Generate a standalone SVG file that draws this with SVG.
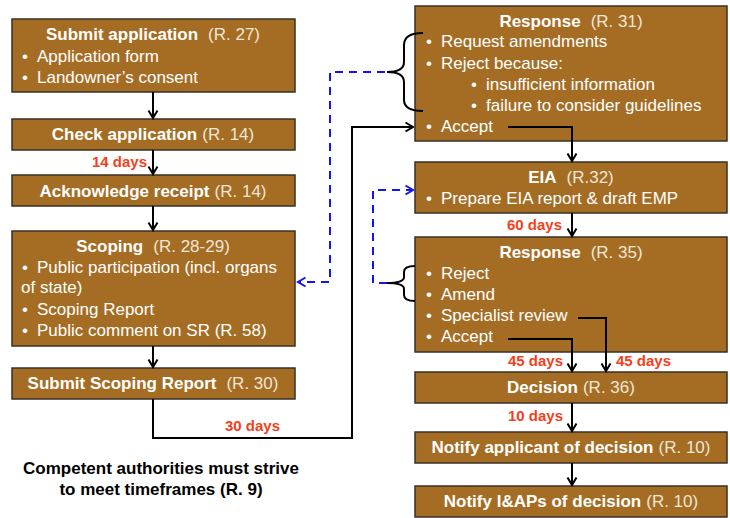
<svg xmlns="http://www.w3.org/2000/svg" width="730" height="518" viewBox="0 0 730 518">
<style>
.box{fill:#A56D24;stroke:#3a3026;stroke-width:1.5}
.t{font-family:"Liberation Sans",Arial,sans-serif;font-size:17px;fill:#FFFFFF}
.b{font-weight:bold;fill:#FFFFFF}
.r{fill:#F2E6D6}
.c{text-anchor:middle}
.days{font-family:"Liberation Sans",Arial,sans-serif;font-size:15px;font-weight:bold;fill:#F43F1C}
.note{font-family:"Liberation Sans",Arial,sans-serif;font-size:17px;font-weight:bold;fill:#000;text-anchor:middle}
.ln{fill:none;stroke:#000;stroke-width:2}
.dash{fill:none;stroke:#1515F0;stroke-width:2;stroke-dasharray:8,6}
</style>
<defs>
<marker id="ah" markerUnits="userSpaceOnUse" markerWidth="12" markerHeight="12" viewBox="-9 -6 10 12" refX="0" refY="0" orient="auto">
<path d="M-7.5,-4.5 L0,0 L-7.5,4.5" fill="none" stroke="#000" stroke-width="2"/>
</marker>
<marker id="bh" markerUnits="userSpaceOnUse" markerWidth="12" markerHeight="12" viewBox="-9 -6 10 12" refX="0" refY="0" orient="auto">
<path d="M-7.5,-4.5 L0,0 L-7.5,4.5" fill="none" stroke="#1515F0" stroke-width="2"/>
</marker>
</defs>

<g id="submit-application">
<rect class="box" x="12" y="19" width="283" height="73"/>
<text class="t c" x="153" y="40"><tspan class="b">Submit application</tspan><tspan class="r" dx="10">(R. 27)</tspan></text>
<text class="t" x="22" y="62">•</text><text class="t" x="37" y="62">Application form</text>
<text class="t" x="22" y="83">•</text><text class="t" x="37" y="83">Landowner’s consent</text>
</g>

<g id="check-application">
<rect class="box" x="12" y="119" width="283" height="31"/>
<text class="t c" x="153" y="140"><tspan class="b">Check application</tspan><tspan class="r" dx="5">(R. 14)</tspan></text>
</g>

<g id="acknowledge-receipt">
<rect class="box" x="12" y="175" width="283" height="31"/>
<text class="t c" x="153" y="197"><tspan class="b">Acknowledge receipt</tspan><tspan class="r" dx="5">(R. 14)</tspan></text>
</g>

<g id="scoping">
<rect class="box" x="12" y="231" width="283" height="115"/>
<text class="t c" x="153" y="252"><tspan class="b">Scoping</tspan><tspan class="r" dx="10">(R. 28-29)</tspan></text>
<text class="t" x="22" y="273">•</text><text class="t" x="37" y="273">Public participation (incl. organs</text>
<text class="t" x="21" y="293">of state)</text>
<text class="t" x="22" y="315">•</text><text class="t" x="37" y="315">Scoping Report</text>
<text class="t" x="22" y="336">•</text><text class="t" x="37" y="336">Public comment on SR (R. 58)</text>
</g>

<g id="submit-scoping-report">
<rect class="box" x="12" y="368" width="283" height="31"/>
<text class="t c" x="153" y="389"><tspan class="b">Submit Scoping Report</tspan><tspan class="r" dx="10">(R. 30)</tspan></text>
</g>

<g id="response-31">
<rect class="box" x="415" y="6" width="312" height="135"/>
<text class="t c" x="571" y="27"><tspan class="b">Response</tspan><tspan class="r" dx="10">(R. 31)</tspan></text>
<text class="t" x="426" y="47">•</text><text class="t" x="441" y="47">Request amendments</text>
<text class="t" x="426" y="69">•</text><text class="t" x="441" y="69">Reject because:</text>
<text class="t" x="471" y="90">•</text><text class="t" x="486" y="90">insufficient information</text>
<text class="t" x="471" y="111">•</text><text class="t" x="486" y="111">failure to consider guidelines</text>
<text class="t" x="426" y="132">•</text><text class="t" x="441" y="132">Accept</text>
</g>

<g id="eia">
<rect class="box" x="415" y="162" width="312" height="51"/>
<text class="t c" x="571" y="183"><tspan class="b">EIA</tspan><tspan class="r" dx="10">(R.32)</tspan></text>
<text class="t" x="426" y="204">•</text><text class="t" x="441" y="204">Prepare EIA report &amp; draft EMP</text>
</g>

<g id="response-35">
<rect class="box" x="415" y="237" width="312" height="115"/>
<text class="t c" x="571" y="258"><tspan class="b">Response</tspan><tspan class="r" dx="10">(R. 35)</tspan></text>
<text class="t" x="426" y="279">•</text><text class="t" x="441" y="279">Reject</text>
<text class="t" x="426" y="300">•</text><text class="t" x="441" y="300">Amend</text>
<text class="t" x="426" y="321">•</text><text class="t" x="441" y="321">Specialist review</text>
<text class="t" x="426" y="342">•</text><text class="t" x="441" y="342">Accept</text>
</g>

<g id="decision">
<rect class="box" x="415" y="372" width="312" height="31"/>
<text class="t c" x="571" y="393"><tspan class="b">Decision</tspan><tspan class="r" dx="5">(R. 36)</tspan></text>
</g>

<g id="notify-applicant">
<rect class="box" x="415" y="432" width="312" height="31"/>
<text class="t c" x="571" y="453"><tspan class="b">Notify applicant of decision</tspan><tspan class="r" dx="5">(R. 10)</tspan></text>
</g>

<g id="notify-iaps">
<rect class="box" x="415" y="486" width="312" height="31"/>
<text class="t c" x="571" y="507"><tspan class="b">Notify I&amp;APs of decision</tspan><tspan class="r" dx="5">(R. 10)</tspan></text>
</g>

<g id="connectors">
<path class="ln" d="M153,92 L153,118" marker-end="url(#ah)"/>
<path class="ln" d="M153,150 L153,174" marker-end="url(#ah)"/>
<path class="ln" d="M153,206 L153,230" marker-end="url(#ah)"/>
<path class="ln" d="M153,346 L153,367" marker-end="url(#ah)"/>
<path class="ln" d="M153,399 L153,438 L352,438 L352,127 L413,127" marker-end="url(#ah)"/>
<path class="ln" d="M508,127 L572,127 L572,161" marker-end="url(#ah)"/>
<path class="ln" d="M572,213 L572,236" marker-end="url(#ah)"/>
<path class="ln" d="M578,318 L606,318 L606,371" marker-end="url(#ah)"/>
<path class="ln" d="M508,339 L572,339 L572,371" marker-end="url(#ah)"/>
<path class="ln" d="M572,403 L572,431" marker-end="url(#ah)"/>
<path class="ln" d="M572,463 L572,485" marker-end="url(#ah)"/>
<path class="ln" d="M423,33 Q404,33 404,45 L404,62 Q404,72 387,72 Q404,72 404,82 L404,100 Q404,111 423,111"/>
<path class="ln" d="M415,266 Q404,266 404,272 L404,277 Q404,283 387,283 Q404,283 404,289 L404,295 Q404,301 415,301"/>
<path class="dash" d="M385,72 L330,72 L330,282 L298,282" marker-end="url(#bh)"/>
<path class="dash" d="M387,283 L373,283 L373,190 L413,190" marker-end="url(#bh)"/>
</g>

<g id="labels">
<text class="days" x="147" y="167" text-anchor="end">14 days</text>
<text class="days" x="225" y="431">30 days</text>
<text class="days" x="562" y="230" text-anchor="end">60 days</text>
<text class="days" x="563" y="366" text-anchor="end">45 days</text>
<text class="days" x="616" y="366">45 days</text>
<text class="days" x="563" y="421" text-anchor="end">10 days</text>
</g>

<g id="note">
<text class="note" x="161" y="474">Competent authorities must strive</text>
<text class="note" x="161" y="495">to meet timeframes (R. 9)</text>
</g>
</svg>
